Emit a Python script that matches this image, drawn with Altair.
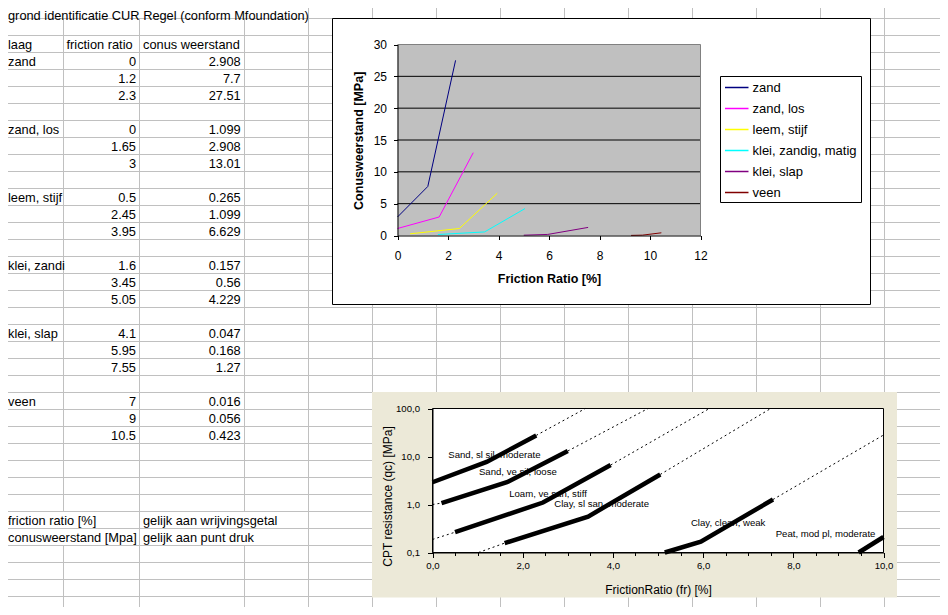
import altair as alt
import pandas as pd

# ------------------------------------------------------------------
# Spreadsheet contents
# ------------------------------------------------------------------
sheet_title = "grond identificatie CUR Regel (conform Mfoundation)"
header_labels = ["laag", "friction ratio", "conus weerstand"]
soil_names = ["zand", "zand, los", "leem, stijf", "klei, zandig, matig", "klei, slap", "veen"]
friction_ratio = [[0, 1.2, 2.3], [0, 1.65, 3], [0.5, 2.45, 3.95],
                  [1.6, 3.45, 5.05], [4.1, 5.95, 7.55], [7, 9, 10.5]]
cone_resistance = [[2.908, 7.7, 27.51], [1.099, 2.908, 13.01], [0.265, 1.099, 6.629],
                   [0.157, 0.56, 4.229], [0.047, 0.168, 1.27], [0.016, 0.056, 0.423]]
note_terms = ["friction ratio [%]", "conusweerstand [Mpa]"]
note_meanings = ["gelijk aan wrijvingsgetal", "gelijk aan punt druk"]

# ------------------------------------------------------------------
# Chart 1 (linear Excel chart) - values as drawn
# ------------------------------------------------------------------
c1_fr = [[0, 1.2, 2.3], [0, 1.65, 3], [0.5, 2.45, 3.95],
         [1.6, 3.45, 5.05], [5.0, 5.95, 7.55], [9.25, 9.7, 10.45]]
c1_qc = cone_resistance
c1_colors = ["#000080", "#FF00FF", "#FFFF00", "#00FFFF", "#800080", "#800000"]
c1_x_ticks = [0, 2, 4, 6, 8, 10, 12]
c1_y_ticks = [0, 5, 10, 15, 20, 25, 30]
c1_grid = [5, 10, 15, 20, 25]

# ------------------------------------------------------------------
# Chart 2 (log CUR chart) - values as drawn
# ------------------------------------------------------------------
c2_fr = [[0, 1.2, 2.3], [0.2, 1.65, 3.0], [0.5, 2.45, 3.95],
         [1.6, 3.45, 5.05], [5.15, 5.95, 7.55], [9.45, 10.0]]
c2_qc = [[2.908, 7.7, 27.51], [1.07, 2.908, 13.01], [0.265, 1.099, 6.629],
         [0.157, 0.56, 4.229], [0.1, 0.168, 1.27], [0.1, 0.21]]
c2_dash_fr = [[2.3, 3.39], [0, 0.2], [3.0, 4.78], [0, 0.5], [3.95, 6.14],
              [1.02, 1.6], [5.05, 7.5], [7.55, 10.0]]
c2_dash_qc = [[27.51, 100], [1.0, 1.07], [13.01, 100], [0.187, 0.265], [6.629, 100],
              [0.1, 0.157], [4.229, 100], [1.27, 28]]
c2_labels = ["Sand, sl sil, moderate", "Sand, ve sil, loose", "Loam, ve san, stiff",
             "Clay, sl san, moderate", "Clay, clean, weak", "Peat, mod pl, moderate"]
c2_label_fr = [0.35, 1.03, 1.7, 2.7, 5.73, 7.61]
c2_label_qc = [10.7, 4.8, 1.66, 1.02, 0.418, 0.246]
c2_x_ticks = [i * 0.5 for i in range(21)]
c2_y_ticks = [0.1, 1, 10, 100]

# ------------------------------------------------------------------
# Layout (canvas coordinates = screenshot coordinates - 8px page margin)
# ------------------------------------------------------------------
W, H = 932, 599
M = 8
FONT = "Liberation Sans"
GRID = "#c0c0c0"
SHEET_FS = 12.8

col_lines = [63, 139, 244, 308, 372, 436, 500, 564, 628, 692, 756, 820, 884]
row0, row_h, n_rows = 1.5, 17, 36
hidden = {(63, 1), (139, 1), (244, 1), (63, 31), (63, 32), (244, 31), (244, 32)}

vg = []
for cx in col_lines:
    for r in range(1, n_rows + 1):
        if (cx, r) in hidden:
            continue
        vg.append({"x": cx + 0.5 - M, "y": row0 + row_h * (r - 1) - M,
                   "y2": row0 + row_h * r - M})
vgrid = pd.DataFrame(vg)
hgrid = pd.DataFrame({"y": [row0 + row_h * k - M for k in range(n_rows + 1)]})
hgrid["x"] = 0
hgrid["x2"] = W


def base_y(row):
    return row0 + row_h * row - 3.5 - M


colA_x, colB_left, colB_right, colC_left, colC_right = 0, 58.5, 128, 135, 232.7
left_cells, right_cells, clip_cells = [], [], []
left_cells.append({"x": colA_x, "y": 11.8, "t": sheet_title})   # first row, kept inside the page
left_cells.append({"x": colA_x, "y": base_y(3), "t": header_labels[0]})
left_cells.append({"x": colB_left, "y": base_y(3), "t": header_labels[1]})
left_cells.append({"x": colC_left, "y": base_y(3), "t": header_labels[2]})
start_rows = [4, 8, 12, 16, 20, 24]
for i, name in enumerate(soil_names):
    r0 = start_rows[i]
    clip_cells.append({"x": colA_x, "y": base_y(r0), "t": name})
    for j in range(3):
        right_cells.append({"x": colB_right, "y": base_y(r0 + j), "t": f"{friction_ratio[i][j]:g}"})
        right_cells.append({"x": colC_right, "y": base_y(r0 + j), "t": f"{cone_resistance[i][j]:g}"})
for k in range(2):
    left_cells.append({"x": colA_x, "y": base_y(31 + k), "t": note_terms[k]})
    left_cells.append({"x": colC_left, "y": base_y(31 + k), "t": note_meanings[k]})


def px_x(field):
    return alt.X(field, type="quantitative", scale=None, axis=None)


def px_y(field):
    return alt.Y(field, type="quantitative", scale=None, axis=None)


layers = []
layers.append(alt.Chart(hgrid).mark_rule(color=GRID, strokeWidth=1).encode(
    x=px_x("x"), x2="x2:Q", y=px_y("y")))
layers.append(alt.Chart(vgrid).mark_rule(color=GRID, strokeWidth=1).encode(
    x=px_x("x"), y=px_y("y"), y2="y2:Q"))
txt = dict(font=FONT, fontSize=SHEET_FS, color="black", baseline="alphabetic")
layers.append(alt.Chart(pd.DataFrame(left_cells)).mark_text(align="left", **txt).encode(
    x=px_x("x"), y=px_y("y"), text="t:N"))
layers.append(alt.Chart(pd.DataFrame(right_cells)).mark_text(align="right", **txt).encode(
    x=px_x("x"), y=px_y("y"), text="t:N"))
layers.append(alt.Chart(pd.DataFrame(clip_cells)).mark_text(align="left", limit=62, ellipsis="\u200b", **txt).encode(
    x=px_x("x"), y=px_y("y"), text="t:N"))

# ---------------- chart 1 -----------------
box1 = pd.DataFrame([{"x": 332.5 - M, "x2": 870.5 - M, "y": 18.5 - M, "y2": 304.5 - M}])
layers.append(alt.Chart(box1).mark_rect(fill="white", stroke="black", strokeWidth=1).encode(
    x=px_x("x"), x2="x2:Q", y=px_y("y"), y2="y2:Q"))

c1x0, c1x1 = 397.5 - M, 700.5 - M
c1yb, c1yt = 235.5 - M, 44.5 - M
sx1 = alt.Scale(domain=[0, 12], range=[c1x0, c1x1], nice=False, zero=False)
sy1 = alt.Scale(domain=[0, 30], range=[c1yb, c1yt], nice=False, zero=False)
color1 = alt.Scale(domain=soil_names, range=c1_colors)


def x1(field, axis=None):
    return alt.X(field, type="quantitative", scale=sx1, axis=axis)


def y1(field, axis=None):
    return alt.Y(field, type="quantitative", scale=sy1, axis=axis)


bg1 = pd.DataFrame([{"a": c1_x_ticks[0], "b": c1_x_ticks[-1], "c": c1_y_ticks[0], "d": c1_y_ticks[-1]}])
layers.append(alt.Chart(bg1).mark_rect(fill="#c0c0c0").encode(
    x=x1("a"), x2="b:Q", y=y1("c"), y2="d:Q"))
grid1 = pd.DataFrame({"v": c1_grid, "a": c1_x_ticks[0], "b": c1_x_ticks[-1]})
layers.append(alt.Chart(grid1).mark_rule(color="black", strokeWidth=1).encode(
    x=x1("a"), x2="b:Q", y=y1("v")))
border1 = pd.DataFrame([{"a": c1_x_ticks[0], "b": c1_x_ticks[-1], "c": c1_y_ticks[-1], "d": c1_y_ticks[-1]},
                        {"a": c1_x_ticks[-1], "b": c1_x_ticks[-1], "c": c1_y_ticks[0], "d": c1_y_ticks[-1]}])
layers.append(alt.Chart(border1).mark_rule(color="#808080", strokeWidth=1).encode(
    x=x1("a"), x2="b:Q", y=y1("c"), y2="d:Q"))

rows1 = []
for i, name in enumerate(soil_names):
    for j, (f, q) in enumerate(zip(c1_fr[i], c1_qc[i])):
        rows1.append({"soil": name, "fr": f, "qc": q, "idx": j})
lines1 = pd.DataFrame(rows1)

ax1x = alt.Axis(orient="bottom", offset=-(H - c1yb), values=c1_x_ticks, tickSize=4,
                tickColor="black", domainColor="black", labelColor="black",
                labelFont=FONT, labelFontSize=12, labelPadding=11, labelFlush=False,
                labelOverlap=False, grid=False, title="Friction Ratio [%]",
                titleFont=FONT, titleFontSize=12.5, titleFontWeight="bold", titleColor="black",
                titleY=42.5, titleBaseline="middle", zindex=1)
ax1y = alt.Axis(orient="left", offset=-c1x0, values=c1_y_ticks, tickSize=4,
                tickColor="black", domainColor="black", labelColor="black",
                labelFont=FONT, labelFontSize=12, labelPadding=7, labelFlush=False,
                labelOverlap=False, grid=False, title="Conusweerstand [MPa]",
                titleFont=FONT, titleFontSize=12.5, titleFontWeight="bold", titleColor="black",
                titleX=-39, titleY=132.3, titleBaseline="middle", zindex=1)
layers.append(alt.Chart(lines1).mark_line(strokeWidth=1).encode(
    x=x1("fr", ax1x), y=y1("qc", ax1y),
    color=alt.Color("soil:N", scale=color1, legend=None),
    order="idx:Q"))

# legend of chart 1 (box, line keys and names)
leg_box = pd.DataFrame([{"x": 720.5 - M, "x2": 861.5 - M, "y": 76.5 - M, "y2": 202.5 - M}])
layers.append(alt.Chart(leg_box).mark_rect(fill="white", stroke="black", strokeWidth=1).encode(
    x=px_x("x"), x2="x2:Q", y=px_y("y"), y2="y2:Q"))
leg = pd.DataFrame({"soil": soil_names, "k": list(range(len(soil_names)))})
leg["y"] = 87.5 - M + 21 * leg["k"]
leg["x"] = 725 - M
leg["x2"] = 748.5 - M
leg["tx"] = 752.5 - M
layers.append(alt.Chart(leg).mark_rule(strokeWidth=1.5).encode(
    x=px_x("x"), x2="x2:Q", y=px_y("y"),
    color=alt.Color("soil:N", scale=color1, legend=None)))
layers.append(alt.Chart(leg).mark_text(align="left", baseline="middle", font=FONT, fontSize=13,
                                       color="black").encode(
    x=px_x("tx"), y=px_y("y"), text="soil:N"))

# ---------------- chart 2 -----------------
panel2 = pd.DataFrame([{"x": 372 - M, "x2": 897 - M, "y": 392 - M, "y2": 597.5 - M}])
layers.append(alt.Chart(panel2).mark_rect(fill="#ece9d8").encode(
    x=px_x("x"), x2="x2:Q", y=px_y("y"), y2="y2:Q"))

c2x0, c2x1 = 432.5 - M, 883.5 - M
c2yb, c2yt = 552.5 - M, 408.5 - M
sx2 = alt.Scale(domain=[0, 10], range=[c2x0, c2x1], nice=False, zero=False)
sy2 = alt.Scale(type="log", domain=[0.1, 100], range=[c2yb, c2yt], nice=False)


def x2(field, axis=None):
    return alt.X(field, type="quantitative", scale=sx2, axis=axis)


def y2(field, axis=None):
    return alt.Y(field, type="quantitative", scale=sy2, axis=axis)


plot2 = pd.DataFrame([{"a": c2_x_ticks[0], "b": c2_x_ticks[-1], "c": c2_y_ticks[0], "d": c2_y_ticks[-1]}])
layers.append(alt.Chart(plot2).mark_rect(fill="white", stroke="black", strokeWidth=1).encode(
    x=x2("a"), x2="b:Q", y=y2("c"), y2="d:Q"))

labels2 = pd.DataFrame({"t": c2_labels, "fr": c2_label_fr, "qc": c2_label_qc})
layers.append(alt.Chart(labels2).mark_text(align="left", baseline="middle", font=FONT,
                                           fontSize=9.6, color="black").encode(
    x=x2("fr"), y=y2("qc"), text="t:N"))

rows_d = []
for k, (fs, qs) in enumerate(zip(c2_dash_fr, c2_dash_qc)):
    for j, (f, q) in enumerate(zip(fs, qs)):
        rows_d.append({"seg": k, "fr": f, "qc": q, "idx": j})
layers.append(alt.Chart(pd.DataFrame(rows_d)).mark_line(color="black", strokeWidth=1,
                                                         strokeDash=[2, 3]).encode(
    x=x2("fr"), y=y2("qc"), detail="seg:N", order="idx:Q"))

rows_s = []
for k, (fs, qs) in enumerate(zip(c2_fr, c2_qc)):
    for j, (f, q) in enumerate(zip(fs, qs)):
        rows_s.append({"lid": k, "fr": f, "qc": q, "idx": j})

x2_label_expr = "datum.value % 2 === 0 ? replace(format(datum.value, '.1f'), '.', ',') : ''"
ax2x = alt.Axis(orient="bottom", offset=-(H - c2yb), values=c2_x_ticks,
                tickSize={"condition": {"test": "datum.value % 2 === 0", "value": 5}, "value": 3},
                tickColor="black", domainColor="black", labelColor="black",
                labelExpr=x2_label_expr, labelFont=FONT, labelFontSize=9.6, labelPadding=3,
                labelFlush=False, labelOverlap=False, grid=False,
                title="FrictionRatio (fr) [%]", titleFont=FONT, titleFontSize=12,
                titleFontWeight="normal", titleColor="black", titleY=36.5,
                titleBaseline="middle", zindex=1)
ax2y = alt.Axis(orient="left", offset=-c2x0, values=c2_y_ticks, tickSize=5,
                tickColor="black", domainColor="black", labelColor="black",
                labelExpr="replace(format(datum.value, '.1f'), '.', ',')",
                labelFont=FONT, labelFontSize=9.6, labelPadding=8, labelFlush=False,
                labelOverlap=False, grid=False, title="CPT resistance (qc) [MPa]",
                titleFont=FONT, titleFontSize=12, titleFontWeight="normal", titleColor="black",
                titleX=-45, titleY=488, titleBaseline="middle", zindex=1)
layers.append(alt.Chart(pd.DataFrame(rows_s)).mark_line(color="black", strokeWidth=4.5,
                                                         strokeCap="butt").encode(
    x=x2("fr", ax2x), y=y2("qc", ax2y), detail="lid:N", order="idx:Q"))

chart = alt.layer(*layers).resolve_scale(
    x="independent", y="independent", color="independent"
).properties(
    width=W, height=H, padding=0, autosize=alt.AutoSizeParams(type="none")
).configure_view(stroke=None)

chart.save("out.html", embed_options={"renderer": "svg", "actions": False})
